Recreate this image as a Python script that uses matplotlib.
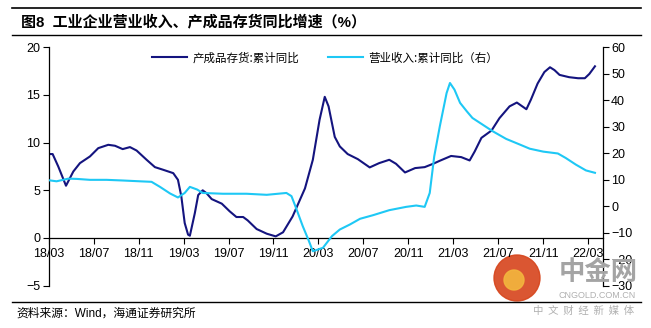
import matplotlib.pyplot as plt
from matplotlib.patches import Circle

plt.rcParams['font.family'] = ['Liberation Sans', 'Noto Sans CJK SC']

# x = months since 2018/03
tick_labels = ['18/03', '18/07', '18/11', '19/03', '19/07', '19/11', '20/03',
               '20/07', '20/11', '21/03', '21/07', '21/11', '22/03']

# 产成品存货:累计同比 (left axis)
inv_x = [0, 0.35, 0.85, 1.54, 2.19, 2.78, 3.67, 4.41, 5.3, 5.9, 6.58, 7.23, 7.82,
         8.71, 9.45, 10.19, 11.08, 11.5, 11.8, 12.1, 12.4, 12.56, 13.0, 13.3, 13.7,
         14.04, 14.5, 15.4, 16.1, 16.7, 17.3, 17.7, 18.5, 19.4, 20.2, 20.85, 21.7,
         22.8, 23.5, 24.1, 24.56, 24.9, 25.45, 25.9, 26.6, 27.5, 28.56, 29.4, 30.3,
         30.9, 31.7, 32.6, 33.45, 34.2, 34.8, 35.8, 36.7, 37.45, 37.9, 38.5, 39.4,
         40.1, 41.0, 41.65, 42.5, 42.9, 43.5, 44.1, 44.6, 45.0, 45.45, 46.3, 47.1,
         47.7, 48.1, 48.6]
inv_y = [8.8, 8.8, 7.5, 5.48, 6.97, 7.85, 8.55, 9.42, 9.77, 9.67, 9.32, 9.53, 9.17,
         8.2, 7.43, 7.15, 6.8, 6.1, 4.36, 1.57, 0.35, 0.24, 2.6, 4.5, 5.0,
         4.7, 4.08, 3.6, 2.8, 2.2, 2.2, 1.85, 0.94, 0.45, 0.17, 0.6, 2.26,
         5.2, 8.2, 12.4, 14.8, 13.8, 10.6, 9.6, 8.8, 8.27, 7.4, 7.85, 8.2,
         7.78, 6.87, 7.33, 7.43, 7.78, 8.1, 8.6, 8.48, 8.13, 9.07, 10.5, 11.27,
         12.56, 13.8, 14.2, 13.5, 14.5, 16.2, 17.4, 17.9, 17.6, 17.1, 16.86, 16.75,
         16.75, 17.2, 18.0]

# 营业收入:累计同比 (right axis)
rev_x = [0, 0.7, 1.75, 2.5, 3.67, 5.15, 6.6, 8.1, 9.15, 9.9, 10.8, 11.5, 12.1,
         12.56, 13.2, 13.7, 15.5, 17.6, 19.4, 21.15, 21.6, 22.0, 22.6, 23.1, 23.5,
         24.4, 25.2, 25.9, 26.8, 27.7, 28.85, 30.3, 31.8, 32.7, 33.45, 33.9, 34.3,
         34.8, 35.4, 35.7, 36.1, 36.6, 37.2, 37.7, 38.6, 39.5, 40.7, 41.9, 42.8,
         44.0, 45.3, 46.0, 46.9, 47.8, 48.6]
rev_y = [9.8, 9.4, 10.4, 10.3, 9.95, 9.95, 9.7, 9.4, 9.2, 7.3, 4.8, 3.3, 5.0,
         7.3, 6.3, 5.0, 4.7, 4.7, 4.3, 5.0, 3.8, -0.6, -7.5, -12.6, -17.0,
         -15.7, -11.3, -8.8, -6.9, -4.75, -3.4, -1.5, -0.25, 0.26, -0.25, 5.0, 18.8,
         30.2, 42.7, 46.5, 44.0, 39.0, 35.8, 33.3, 30.8, 28.3, 25.4, 23.3, 21.7,
         20.6, 19.9, 18.2, 15.7, 13.5, 12.6]

dark = '#14147f'
light = '#1ec8f5'

fig = plt.figure(figsize=(6.51, 3.28), dpi=100)

# watermark (behind the chart)
fig.add_artist(Circle((5.17, 0.50), 0.23, transform=fig.dpi_scale_trans,
                      color='#d6441b', alpha=0.9, zorder=0))
fig.add_artist(Circle((5.14, 0.48), 0.10, transform=fig.dpi_scale_trans,
                      color='#f3b63e', alpha=0.9, zorder=0))
fig.text(0.979, 0.168, '中金网', fontsize=19, color='#a4a4a4', ha='right',
         va='center', fontweight='bold', family='Noto Sans CJK SC', zorder=0)
fig.text(0.977, 0.098, 'CNGOLD.COM.CN', fontsize=6.5, color='#b0b0b0', ha='right',
         va='center', zorder=0)
fig.text(0.974, 0.052, '中  文  财  经  新  媒  体', fontsize=7.5, color='#b0b0b0',
         ha='right', va='center', family='Noto Sans CJK SC', zorder=0)

ax = fig.add_axes([0.0748, 0.129, 0.8512, 0.727])
ax2 = ax.twinx()
ax.patch.set_visible(False)
ax2.patch.set_visible(False)

l1, = ax.plot(inv_x, inv_y, color=dark, lw=1.5, label='产成品存货:累计同比')
l2, = ax2.plot(rev_x, rev_y, color=light, lw=1.5, label='营业收入:累计同比（右）')

ax.set_xlim(0, 49.3)
ax.set_ylim(-5, 20)
ax.set_yticks([-5, 0, 5, 10, 15, 20])
ax2.set_ylim(-30, 60)
ax2.set_yticks(range(-30, 61, 10))

ax.set_xticks(range(0, 49, 4))
ax.set_xticklabels(tick_labels)
ax.spines['bottom'].set_position(('data', 0))
ax.spines['top'].set_visible(False)
ax.spines['right'].set_visible(False)
ax2.spines['top'].set_visible(False)
ax2.spines['left'].set_visible(False)
ax2.spines['bottom'].set_visible(False)
for a in (ax, ax2):
    a.tick_params(labelsize=9, length=4, width=0.8, pad=2, colors='black')
    for s in a.spines.values():
        s.set_linewidth(0.9)
ax.tick_params(axis='x', pad=3)

fig.legend(handles=[l1, l2], loc='upper left', bbox_to_anchor=(0.218, 0.875),
           ncol=2, frameon=False, handlelength=3.0,
           columnspacing=2.5, handletextpad=0.5,
           prop={'family': 'Noto Sans CJK SC', 'size': 8.3})

# title and rules
fig.add_artist(plt.Line2D([0.018, 0.985], [0.975, 0.975], color='black', lw=1.2))
fig.add_artist(plt.Line2D([0.018, 0.985], [0.893, 0.893], color='black', lw=1.0))
fig.text(0.033, 0.933, '图8  工业企业营业收入、产成品存货同比增速（%）',
         fontsize=10.8, fontweight='bold', va='center')
fig.add_artist(plt.Line2D([0.018, 0.985], [0.08, 0.08], color='black', lw=1.0))
fig.text(0.026, 0.045, '资料来源：Wind，海通证券研究所', fontsize=8.5, va='center')

fig.savefig('out.png', dpi=100)
